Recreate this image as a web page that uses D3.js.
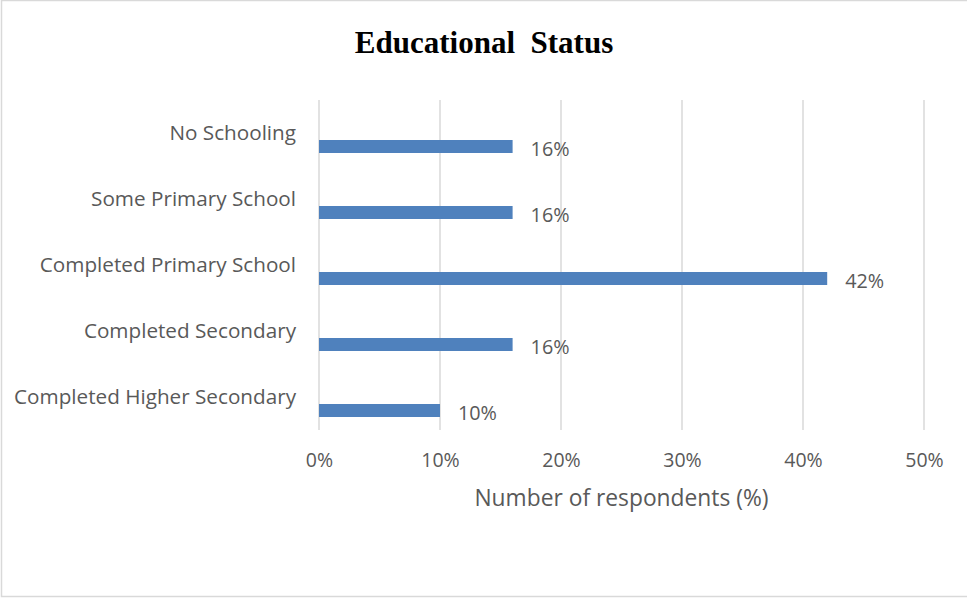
<!DOCTYPE html>
<html>
<head>
<meta charset="utf-8">
<script src="https://cdn.jsdelivr.net/npm/d3@7"></script>
<style>
  body { margin: 0; background: #fff; }
  svg text { font-family: "Open Sans", sans-serif; fill: #595959; }
</style>
</head>
<body>
<div id="container"></div>
<script>
/* CONSTANTS AND GLOBALS */
const width = 967,
      height = 598,
      margin = {top: 100, left: 319, bottom: 168, right: 43};

/* DATA */
const categories = ["No Schooling", "Some Primary School", "Completed Primary School",
                    "Completed Secondary", "Completed Higher Secondary"];
const values = [16, 16, 42, 16, 10];
const xTicks = [0, 10, 20, 30, 40, 50];

const svg = d3.select("#container")
              .append("svg")
              .attr("width", width)
              .attr("height", height)

// outer border
svg.append("rect")
   .attr("x", 1.5).attr("y", 0.5)
   .attr("width", width + 10).attr("height", height - 2)
   .attr("fill", "none")
   .attr("stroke", "#d9d9d9")
   .attr("stroke-width", 1.5)

// SCALES
const xScale = d3.scaleLinear()
                 .domain([0, 50])
                 .range([margin.left, width - margin.right])

const yScale = d3.scaleBand()
                 .domain(categories)
                 .range([margin.top, height - margin.bottom])

// GRIDLINES
svg.selectAll("line.grid")
   .data(xTicks)
   .join("line")
   .attr("class", "grid")
   .attr("x1", d => xScale(d)).attr("x2", d => xScale(d))
   .attr("y1", margin.top).attr("y2", height - margin.bottom)
   .attr("stroke", "#d9d9d9")
   .attr("stroke-width", 1.5)

// X AXIS
const xAxis = d3.axisBottom(xScale)
                .tickValues(xTicks)
                .tickFormat(d => d + "%")
                .tickSize(0)
                .tickPadding(23)

svg.append("g")
   .attr("transform", `translate(0,${height - margin.bottom})`)
   .call(xAxis)
   .call(g => g.select(".domain").remove())
   .call(g => g.selectAll("text").attr("font-size", 19.5).attr("font-family", null))

// Y AXIS labels
const yAxis = d3.axisLeft(yScale).tickSize(0).tickPadding(23)
svg.append("g")
   .attr("transform", `translate(${margin.left},0)`)
   .call(yAxis)
   .call(g => g.select(".domain").remove())
   .call(g => g.selectAll("text").attr("font-size", 20.7).attr("font-family", null))

// BARS
const barH = 13
svg.selectAll("rect.bar")
   .data(values)
   .join("rect")
   .attr("class", "bar")
   .attr("x", xScale(0))
   .attr("y", (d, i) => yScale(categories[i]) + yScale.bandwidth() / 2 + 7)
   .attr("width", d => xScale(d) - xScale(0))
   .attr("height", barH)
   .attr("fill", "#4f81bd")

// DATA LABELS
svg.selectAll("text.lbl")
   .data(values)
   .join("text")
   .attr("class", "lbl")
   .attr("x", d => xScale(d) + 18)
   .attr("y", (d, i) => yScale(categories[i]) + yScale.bandwidth() / 2 + 23)
   .attr("font-size", 19.8)
   .text(d => d + "%")

// AXIS TITLE
svg.append("text")
   .attr("x", (xScale(0) + xScale(50)) / 2)
   .attr("y", 506)
   .attr("text-anchor", "middle")
   .attr("font-size", 22.8)
   .text("Number of respondents (%)")

// CHART TITLE
svg.append("text")
   .attr("x", 484)
   .attr("y", 53)
   .attr("text-anchor", "middle")
   .attr("font-size", 31)
   .attr("font-weight", "bold")
   .style("font-family", "'Liberation Serif', 'Times New Roman', serif")
   .style("fill", "#000")
   .attr("xml:space", "preserve")
   .text("Educational  Status")
</script>
</body>
</html>
